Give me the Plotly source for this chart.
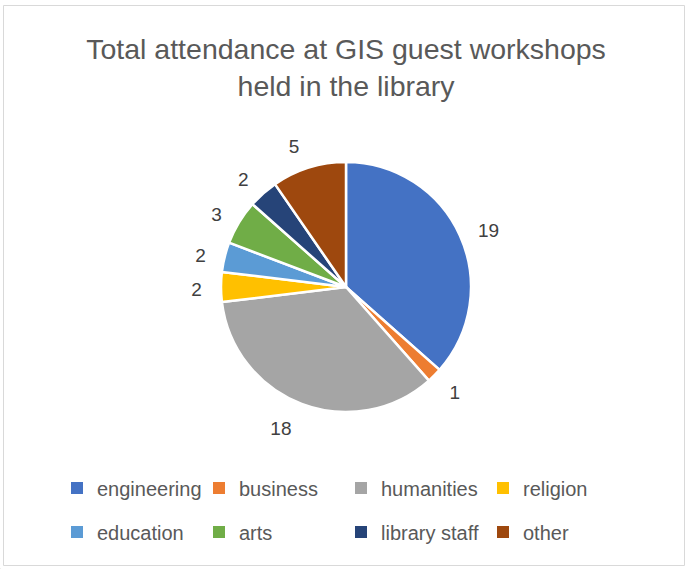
import plotly.graph_objects as go

categories = ["engineering", "business", "humanities", "religion",
              "education", "arts", "library staff", "other"]
attendance = [19, 1, 18, 2, 2, 3, 2, 5]
colors = ["#4472C4", "#ED7D31", "#A5A5A5", "#FFC000",
          "#5B9BD5", "#70AD47", "#264478", "#9E480E"]
title_text = "Total attendance at GIS guest workshops<br>held in the library"

W, H = 688, 569
FONT = "Liberation Sans, Arial, sans-serif"

def dom(cx, cy, r):
    return dict(x=[(cx - r) / W, (cx + r) / W], y=[1 - (cy + r) / H, 1 - (cy - r) / H])

fig = go.Figure()
# visible pie
fig.add_trace(go.Pie(
    labels=categories, values=attendance, sort=False, direction="clockwise", rotation=0,
    marker=dict(colors=colors, line=dict(color="white", width=2.5)),
    textinfo="none", domain=dom(346, 287, 125), showlegend=False,
    hoverinfo="label+value",
))
# label carrier (transparent, slightly larger) so labels sit away from the pie
fig.add_trace(go.Pie(
    labels=categories, values=attendance, sort=False, direction="clockwise", rotation=0,
    marker=dict(colors=["rgba(0,0,0,0)"] * len(categories), line=dict(width=0)),
    textinfo="value", textposition="outside",
    outsidetextfont=dict(family=FONT, size=19, color="#404040"),
    domain=dom(346, 289, 139), showlegend=False, hoverinfo="skip",
))
# legend carriers (negligibly small pies in a corner), one per legend row
for legend_id, sl in (("legend", slice(0, 4)), ("legend2", slice(4, 8))):
    fig.add_trace(go.Pie(
        labels=categories[sl], values=attendance[sl], sort=False,
        marker=dict(colors=colors[sl], line=dict(width=0)),
        textinfo="none", domain=dict(x=[0, 0.0005], y=[0, 0.0005]),
        showlegend=True, legend=legend_id, hoverinfo="skip",
    ))

legend_common = dict(orientation="h", x=57 / W, xanchor="left", yanchor="middle",
                     entrywidth=97, entrywidthmode="pixels",
                     font=dict(family=FONT, size=20, color="#595959"),
                     bgcolor="rgba(0,0,0,0)", traceorder="normal")

fig.update_layout(
    width=W, height=H,
    paper_bgcolor="white", plot_bgcolor="white",
    margin=dict(l=0, r=0, t=0, b=0),
    title=dict(text=title_text, x=0.503, xanchor="center", y=1 - 58.5 / H, yanchor="middle",
               font=dict(family=FONT, size=28.5, color="#595959")),
    legend=dict(legend_common, y=1 - 488 / H),
    legend2=dict(legend_common, y=1 - 532 / H),
    shapes=[dict(type="rect", xref="paper", yref="paper",
                 x0=3.5 / W, x1=684.5 / W, y0=1 - 565.5 / H, y1=1 - 5.5 / H,
                 line=dict(color="#D9D9D9", width=1))],
)

fig.write_html("out.html", config={"displayModeBar": False},
               post_script="document.body.style.margin='0';")
